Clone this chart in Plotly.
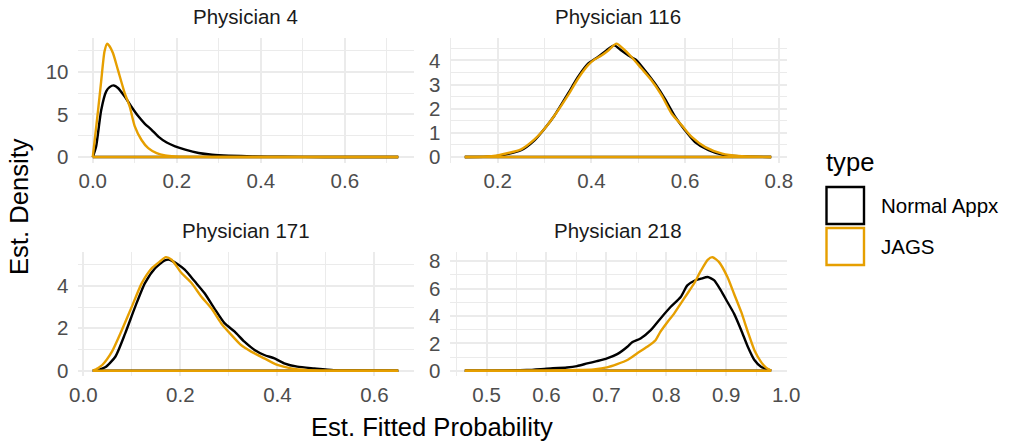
import plotly.graph_objects as go

# ---------------- data ----------------
panel_titles = ["Physician 4", "Physician 116", "Physician 171", "Physician 218"]
series_names = ["Normal Appx", "JAGS"]
series_colors = ["#000000", "#E69F00"]

# Physician 4
p4_normal_x = [0.0, 0.008, 0.02, 0.032, 0.04, 0.05, 0.06, 0.076, 0.092, 0.108, 0.124, 0.14, 0.156, 0.176,
               0.196, 0.22, 0.252, 0.284, 0.324, 0.38, 0.45, 0.55, 0.727]
p4_normal_y = [0.0, 1.25, 5.5, 7.7, 8.2, 8.4, 8.1, 7.1, 5.9, 4.8, 3.9, 3.2, 2.4, 1.7,
               1.25, 0.86, 0.47, 0.27, 0.16, 0.08, 0.03, 0.01, 0.0]
p4_jags_x = [0.0, 0.006, 0.012, 0.02, 0.028, 0.0344, 0.04, 0.048, 0.06, 0.076, 0.088, 0.1, 0.116, 0.132,
             0.152, 0.172, 0.196, 0.25, 0.35, 0.727]
p4_jags_y = [0.0, 2.6, 5.2, 8.9, 12.4, 13.3, 13.0, 12.2, 10.2, 7.5, 5.9, 3.6, 2.0, 1.05,
             0.47, 0.2, 0.08, 0.02, 0.0, 0.0]

# Physician 116
p116_normal_x = [0.13, 0.17, 0.2, 0.25, 0.2786, 0.3, 0.3214, 0.35, 0.3714, 0.3929, 0.414, 0.432, 0.4486,
                 0.464, 0.479, 0.4964, 0.514, 0.536, 0.557, 0.579, 0.6, 0.621, 0.65, 0.679, 0.714, 0.7836]
p116_normal_y = [0.0, 0.005, 0.04, 0.28, 0.69, 1.17, 1.72, 2.62, 3.31, 3.86, 4.14, 4.41, 4.62,
                 4.41, 4.2, 4.0, 3.59, 3.03, 2.41, 1.66, 1.1, 0.62, 0.28, 0.1, 0.03, 0.0]
p116_jags_x = [0.13, 0.17, 0.2, 0.25, 0.2786, 0.3, 0.3214, 0.35, 0.3714, 0.3929, 0.407, 0.4214, 0.436,
               0.4536, 0.4679, 0.4857, 0.507, 0.5286, 0.55, 0.5714, 0.5929, 0.614, 0.643, 0.679, 0.714, 0.7836]
p116_jags_y = [0.0, 0.01, 0.07, 0.32, 0.73, 1.17, 1.72, 2.55, 3.24, 3.8, 4.04, 4.2, 4.41,
               4.69, 4.48, 4.14, 3.66, 3.17, 2.55, 1.79, 1.31, 0.83, 0.41, 0.14, 0.04, 0.0]

# Physician 171
p171_normal_x = [0.0195, 0.03, 0.045, 0.066, 0.0863, 0.107, 0.127, 0.148, 0.168, 0.178, 0.196, 0.209, 0.23,
                 0.25, 0.27, 0.291, 0.312, 0.332, 0.353, 0.373, 0.394, 0.414, 0.441, 0.476, 0.516, 0.56, 0.649]
p171_normal_y = [0.0, 0.03, 0.16, 0.66, 1.76, 3.02, 4.13, 4.83, 5.2, 5.23, 4.99, 4.76, 4.2,
                 3.65, 2.94, 2.24, 1.84, 1.37, 0.98, 0.74, 0.58, 0.35, 0.19, 0.11, 0.03, 0.01, 0.0]
p171_jags_x = [0.0195, 0.03, 0.039, 0.059, 0.0795, 0.1, 0.1205, 0.141, 0.158, 0.17, 0.182, 0.2024, 0.223,
               0.243, 0.264, 0.284, 0.305, 0.325, 0.346, 0.373, 0.4, 0.428, 0.462, 0.52, 0.649]
p171_jags_y = [0.0, 0.12, 0.27, 0.9, 1.92, 3.02, 4.13, 4.83, 5.15, 5.35, 5.23, 4.6, 4.13,
               3.5, 2.94, 2.24, 1.69, 1.21, 0.9, 0.58, 0.27, 0.11, 0.03, 0.0, 0.0]

# Physician 218
p218_normal_x = [0.4637, 0.567, 0.6, 0.634, 0.651, 0.668, 0.684, 0.701, 0.718, 0.735, 0.743, 0.757, 0.774,
                 0.79, 0.807, 0.824, 0.835, 0.846, 0.858, 0.869, 0.88, 0.891, 0.902, 0.913, 0.925, 0.936,
                 0.947, 0.958, 0.969, 0.975]
p218_normal_y = [0.0, 0.05, 0.15, 0.24, 0.34, 0.53, 0.7, 0.9, 1.21, 1.75, 2.08, 2.35, 2.96,
                 3.8, 4.65, 5.38, 6.23, 6.55, 6.72, 6.84, 6.6, 5.87, 5.02, 4.17, 2.96, 1.75,
                 0.78, 0.29, 0.1, 0.0]
p218_jags_x = [0.4637, 0.6, 0.651, 0.679, 0.701, 0.718, 0.735, 0.751, 0.768, 0.782, 0.79, 0.802, 0.813,
               0.824, 0.835, 0.846, 0.858, 0.869, 0.877, 0.888, 0.902, 0.913, 0.925, 0.936, 0.947, 0.958,
               0.966, 0.975]
p218_jags_y = [0.0, 0.01, 0.05, 0.1, 0.24, 0.48, 0.78, 1.26, 1.75, 2.23, 2.84, 3.56, 4.17,
               4.9, 5.62, 6.35, 7.32, 8.1, 8.29, 7.93, 6.84, 5.62, 4.29, 2.84, 1.5, 0.65,
               0.24, 0.0]

# tick labels
p4_xticks = [0.0, 0.2, 0.4, 0.6]
p4_yticks = [0, 5, 10]
p116_xticks = [0.2, 0.4, 0.6, 0.8]
p116_yticks = [0, 1, 2, 3, 4]
p171_xticks = [0.0, 0.2, 0.4, 0.6]
p171_yticks = [0, 2, 4]
p218_xticks = [0.5, 0.6, 0.7, 0.8, 0.9, 1.0]
p218_yticks = [0, 2, 4, 6, 8]

panels = [
    (p4_normal_x, p4_normal_y, p4_jags_x, p4_jags_y, p4_xticks, p4_yticks),
    (p116_normal_x, p116_normal_y, p116_jags_x, p116_jags_y, p116_xticks, p116_yticks),
    (p171_normal_x, p171_normal_y, p171_jags_x, p171_jags_y, p171_xticks, p171_yticks),
    (p218_normal_x, p218_normal_y, p218_jags_x, p218_jags_y, p218_xticks, p218_yticks),
]

# ---------------- layout (pixels) ----------------
W, H = 1013, 442
col_px = [(77.5, 413.5), (449.5, 786.5)]
row_px = [(38.0, 162.7), (251.5, 376.4)]
FONT = "Liberation Sans, Arial, sans-serif"
TICK_SIZE = 20.5
TITLE_SIZE = 25.6
GRID = "#EBEBEB"


def fx(p):
    return p / W


def fy(p):
    return 1 - p / H


def minor_vals(ticks, lo, hi):
    step = ticks[1] - ticks[0]
    vals = []
    v = ticks[0] - step / 2
    while v > lo:
        v -= step
    while v <= hi:
        if lo <= v <= hi:
            vals.append(round(v, 6))
        v += step
    return [m for m in vals if all(abs(m - t) > 1e-9 for t in ticks)]


fig = go.Figure()
layout = {}
for i, (nx, ny, jx, jy, xt, yt) in enumerate(panels):
    r, c = divmod(i, 2)
    k = "" if i == 0 else str(i + 1)
    xa, ya = "x" + k, "y" + k
    xmin = min(nx + jx)
    xmax = max(nx + jx)
    ymax = max(ny + jy)
    xpad = (xmax - xmin) * 0.05
    ypad = ymax * 0.05
    xr = [xmin - xpad, xmax + xpad]
    yr = [-ypad, ymax + ypad]
    for (sx, sy), name, col in zip([(nx, ny), (jx, jy)], series_names, series_colors):
        fig.add_trace(go.Scatter(x=sx, y=sy, mode="lines", name=name,
                                 line=dict(color=col, width=2.4, shape="spline", smoothing=0.6),
                                 xaxis=xa, yaxis=ya, showlegend=False, hoverinfo="skip"))
        fig.add_trace(go.Scatter(x=[xmin, xmax], y=[0, 0], mode="lines",
                                 line=dict(color=col, width=2.4),
                                 xaxis=xa, yaxis=ya, showlegend=False, hoverinfo="skip"))
    x0, x1 = col_px[c]
    y0, y1 = row_px[r]
    layout["xaxis" + k] = dict(
        domain=[fx(x0), fx(x1)], anchor=ya, range=xr, tickmode="array", tickvals=xt,
        ticktext=[f"{v:.1f}" for v in xt], showgrid=True, gridcolor=GRID, gridwidth=2,
        zeroline=False, showline=False, ticks="", ticklabelstandoff=4, automargin=False,
        tickfont=dict(family=FONT, size=TICK_SIZE, color="#4D4D4D"),
        minor=dict(tickvals=minor_vals(xt, xr[0], xr[1]), showgrid=True, gridcolor=GRID, gridwidth=1, ticks=""),
    )
    layout["yaxis" + k] = dict(
        domain=[fy(y1), fy(y0)], anchor=xa, range=yr, tickmode="array", tickvals=yt,
        ticktext=[str(v) for v in yt], showgrid=True, gridcolor=GRID, gridwidth=2,
        zeroline=False, showline=False, ticks="", ticklabelstandoff=8, automargin=False,
        tickfont=dict(family=FONT, size=TICK_SIZE, color="#4D4D4D"),
        minor=dict(tickvals=minor_vals(yt, yr[0], yr[1]), showgrid=True, gridcolor=GRID, gridwidth=1, ticks=""),
    )

annotations = []
strip_y = [17, 230.5]
for i, t in enumerate(panel_titles):
    r, c = divmod(i, 2)
    x0, x1 = col_px[c]
    annotations.append(dict(text=t, x=fx((x0 + x1) / 2), y=fy(strip_y[r]), xref="paper", yref="paper",
                            showarrow=False, xanchor="center", yanchor="middle",
                            font=dict(family=FONT, size=TICK_SIZE, color="#1A1A1A")))
annotations.append(dict(text="Est. Density", x=fx(19), y=fy(207), xref="paper", yref="paper",
                        showarrow=False, textangle=-90, xanchor="center", yanchor="middle",
                        font=dict(family=FONT, size=TITLE_SIZE, color="#000000")))
annotations.append(dict(text="Est. Fitted Probability", x=fx(432), y=fy(427), xref="paper", yref="paper",
                        showarrow=False, xanchor="center", yanchor="middle",
                        font=dict(family=FONT, size=TITLE_SIZE, color="#000000")))
# legend
annotations.append(dict(text="type", x=fx(824), y=fy(162), xref="paper", yref="paper",
                        showarrow=False, xanchor="left", yanchor="middle",
                        font=dict(family=FONT, size=TITLE_SIZE, color="#000000")))
shapes = []
key_top = [187, 228]
for name, col, kt in zip(series_names, series_colors, key_top):
    shapes.append(dict(type="rect", xref="paper", yref="paper", x0=fx(826.5), x1=fx(864),
                       y0=fy(kt + 37), y1=fy(kt), line=dict(color=col, width=2.4), fillcolor="rgba(0,0,0,0)"))
    annotations.append(dict(text=name, x=fx(879), y=fy(kt + 18.5), xref="paper", yref="paper",
                            showarrow=False, xanchor="left", yanchor="middle",
                            font=dict(family=FONT, size=TICK_SIZE, color="#000000")))

fig.update_layout(
    width=W, height=H, margin=dict(l=0, r=0, t=0, b=0, autoexpand=False),
    paper_bgcolor="white", plot_bgcolor="white",
    annotations=annotations, shapes=shapes, showlegend=False,
    **layout,
)
fig.write_html("out.html", config={"displayModeBar": False},
               post_script="document.body.style.margin='0';document.body.style.overflow='hidden';")
